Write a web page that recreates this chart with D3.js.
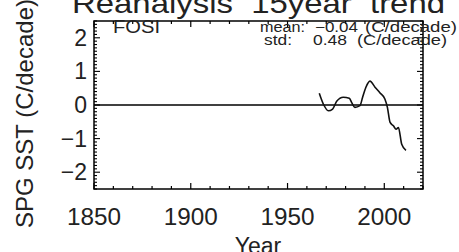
<!DOCTYPE html>
<html>
<head>
<meta charset="utf-8">
<script src="https://cdn.jsdelivr.net/npm/d3@7"></script>
<style>
  body { margin: 0; background: #fff; }
  text { font-family: "Liberation Sans", Arial, sans-serif; fill: #222; white-space: pre; }
</style>
</head>
<body>
<svg width="459" height="252"></svg>
<script>
// 15-year trend of SPG SST
var years = [1966.4, 1968.5, 1971.1, 1973.3, 1975.4, 1978.8, 1981.9, 1983.1, 1984.8, 1987.4,
  1988.8, 1990.5, 1992.6, 1995.2, 1997.8, 2000.3, 2001.6, 2003.0, 2004.7, 2006.1,
  2007.3, 2009.0, 2011.2];
var trend = [0.35, 0.03, -0.17, -0.12, 0.11, 0.23, 0.20, 0.08, -0.07, -0.02,
  0.23, 0.53, 0.71, 0.53, 0.36, 0.18, -0.07, -0.52, -0.62, -0.72,
  -0.67, -1.17, -1.35];
var xTickLabels = [1850, 1900, 1950, 2000];
var yTickLabels = [-2, -1, 0, 1, 2];

var svg = d3.select("svg");
var pLeft = 94, pRight = 423, pTop = 21, pBottom = 189;

var x = d3.scaleLinear().domain([1850, 2020]).range([pLeft, pRight]);
var y = d3.scaleLinear().domain([-2.5, 2.5]).range([pBottom, pTop]);

// stretched text helper (the original font is wider than ours)
function label(px, py, size, len, str) {
  return svg.append("text")
    .attr("x", px).attr("y", py)
    .attr("font-size", size)
    .attr("textLength", len).attr("lengthAdjust", "spacingAndGlyphs")
    .text(str);
}

// title (partly cut off at top)
label(72, 13, 28, 373, "Reanalysis  15year  trend");

// y label
svg.append("text")
  .attr("transform", "translate(33,228) rotate(-90)")
  .attr("font-size", 24)
  .text("SPG SST (C/decade)");

// x label
svg.append("text")
  .attr("x", 258).attr("y", 254)
  .attr("text-anchor", "middle")
  .attr("font-size", 23)
  .text("Year");

var g = svg.append("g");

// minor + major ticks, inward on all four sides
var xMinor = d3.range(1850, 2021, 10);
g.selectAll(".xt").data(xMinor).enter().append("line")
  .attr("x1", function (d) { return x(d); }).attr("x2", function (d) { return x(d); })
  .attr("y1", pBottom).attr("y2", function (d) { return pBottom - (d % 50 === 0 ? 6 : 3); })
  .attr("stroke", "#000").attr("stroke-width", 1.2);
g.selectAll(".xtt").data(xMinor).enter().append("line")
  .attr("x1", function (d) { return x(d); }).attr("x2", function (d) { return x(d); })
  .attr("y1", pTop).attr("y2", function (d) { return pTop + (d % 50 === 0 ? 6 : 3); })
  .attr("stroke", "#000").attr("stroke-width", 1.2);

var yMinor = d3.range(-25, 26).map(function (d) { return d / 10; });
function isMajor(d) { return Math.abs(d - Math.round(d)) < 1e-6; }
g.selectAll(".yt").data(yMinor).enter().append("line")
  .attr("y1", function (d) { return y(d); }).attr("y2", function (d) { return y(d); })
  .attr("x1", pLeft).attr("x2", function (d) { return pLeft + (isMajor(d) ? 6 : 3); })
  .attr("stroke", "#000").attr("stroke-width", 1.1);
g.selectAll(".ytr").data(yMinor).enter().append("line")
  .attr("y1", function (d) { return y(d); }).attr("y2", function (d) { return y(d); })
  .attr("x1", pRight).attr("x2", function (d) { return pRight - (isMajor(d) ? 6 : 3); })
  .attr("stroke", "#000").attr("stroke-width", 1.1);

// frame
g.append("rect")
  .attr("x", pLeft).attr("y", pTop)
  .attr("width", pRight - pLeft).attr("height", pBottom - pTop)
  .attr("fill", "none").attr("stroke", "#000").attr("stroke-width", 1.5);

// tick labels
svg.selectAll(".xl").data(xTickLabels).enter().append("text")
  .attr("x", function (d) { return x(d) - 27; }).attr("y", 225)
  .attr("font-size", 23)
  .attr("textLength", 54).attr("lengthAdjust", "spacingAndGlyphs")
  .text(function (d) { return d; });
svg.selectAll(".yl").data(yTickLabels).enter().append("text")
  .attr("x", 87).attr("y", function (d) { return y(d) + 8; })
  .attr("text-anchor", "end").attr("font-size", 23)
  .text(function (d) { return d < 0 ? "\u2212" + Math.abs(d) : d; });

// zero line
g.append("line")
  .attr("x1", pLeft).attr("x2", pRight)
  .attr("y1", y(0)).attr("y2", y(0))
  .attr("stroke", "#000").attr("stroke-width", 1.3);

// trend curve
var line = d3.line()
  .x(function (d, i) { return x(years[i]); })
  .y(function (d) { return y(d); })
  .curve(d3.curveMonotoneX);
g.append("path")
  .datum(trend)
  .attr("d", line)
  .attr("fill", "none").attr("stroke", "#111").attr("stroke-width", 1.6);

// annotations
label(113, 33, 18, 47, "FOSI");
label(260, 32, 14, 45, "mean:");
label(315, 32, 14, 43, "\u22120.04");
label(365, 32, 14, 92, "(C/decade)");
label(264, 45, 14, 28, "std:");
label(313, 45, 14, 34, "0.48");
label(357, 45, 14, 90, "(C/decade)");
</script>
</body>
</html>
